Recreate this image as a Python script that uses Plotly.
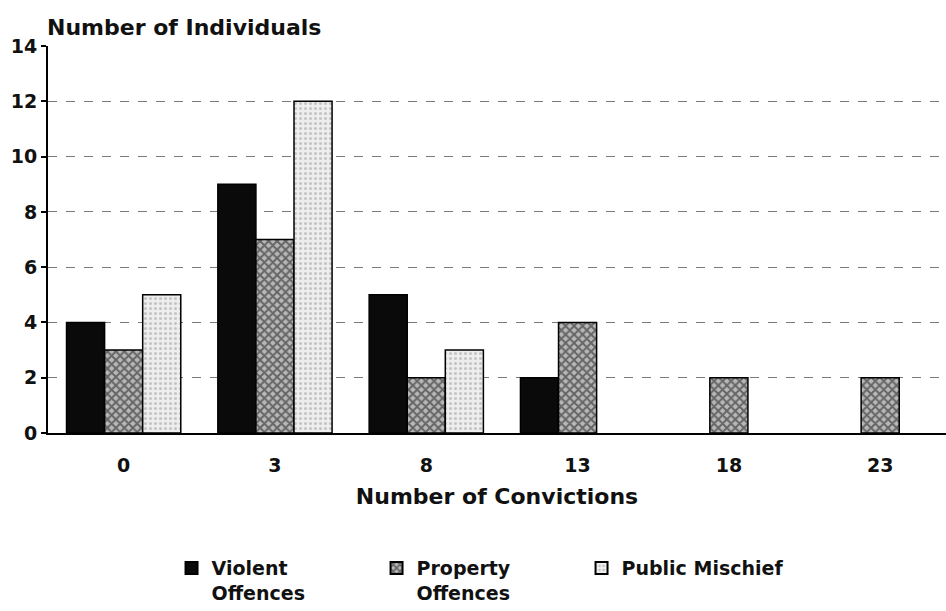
import plotly.graph_objects as go

categories = ["0", "3", "8", "13", "18", "23"]
violent = [4, 9, 5, 2, 0, 0]
property_off = [3, 7, 2, 4, 2, 2]
public_mischief = [5, 12, 3, 0, 0, 0]
y_ticks = [0, 2, 4, 6, 8, 10, 12, 14]

FONT = "DejaVu Sans, Liberation Sans, Arial, sans-serif"


def outline(vals):
    # zero-height bars leave no visible outline in the original
    return [1.5 if v else 0 for v in vals]


fig = go.Figure()
fig.add_trace(go.Bar(
    x=categories, y=violent, name="<b>Violent</b><br><b>Offences</b>",
    marker=dict(color="#0a0a0a", line=dict(color="#000", width=outline(violent))),
))
fig.add_trace(go.Bar(
    x=categories, y=property_off, name="<b>Property</b><br><b>Offences</b>",
    marker=dict(color="#ffffff", line=dict(color="#000", width=outline(property_off)),
                pattern=dict(shape="x", fgcolor="#111111", bgcolor="#b8b8b8",
                             size=6, solidity=0.55)),
))
fig.add_trace(go.Bar(
    x=categories, y=public_mischief, name="<b>Public Mischief</b>",
    marker=dict(color="#ffffff", line=dict(color="#000", width=outline(public_mischief)),
                pattern=dict(shape=".", fgcolor="#999999", bgcolor="#eeeeee",
                             size=5, solidity=0.3)),
))

fig.update_layout(
    width=946, height=611,
    margin=dict(l=48, r=0, t=46, b=178, autoexpand=False),
    paper_bgcolor="#ffffff", plot_bgcolor="#ffffff",
    barmode="group", bargap=0.245, bargroupgap=0,
    font=dict(family=FONT, size=19, color="#111"),
    showlegend=True,
    legend=dict(orientation="h", x=0.48, xanchor="center", y=-0.3, yanchor="top",
                font=dict(family=FONT, size=19, color="#111"),
                entrywidth=160, itemsizing="constant", traceorder="normal", valign="top"),
    annotations=[dict(text="<b>Number of Individuals</b>", x=-0.003, xref="paper",
                      xanchor="left", y=1, yref="paper", yanchor="bottom", yshift=4,
                      showarrow=False, font=dict(family=FONT, size=22, color="#111"))],
)
fig.update_xaxes(
    type="category", range=[-0.5, 5.435], automargin=False,
    showline=True, linecolor="#000", linewidth=2,
    showgrid=False, ticks="", ticklabelstandoff=14,
    tickfont=dict(family=FONT, size=19, color="#111"),
    tickprefix="<b>", ticksuffix="</b>",
    title=dict(text="<b>Number of Convictions</b>", font=dict(family=FONT, size=22, color="#111"),
               standoff=14),
)
fig.update_yaxes(
    range=[0, 14], tickvals=y_ticks, ticktext=[f"<b>{v}</b>" for v in y_ticks],
    automargin=False,
    showline=True, linecolor="#000", linewidth=2,
    ticks="outside", ticklen=5, tickwidth=2, tickcolor="#000",
    showgrid=True, gridcolor="#7a7a7a", griddash="dash", gridwidth=1,
    tickfont=dict(family=FONT, size=19, color="#111"), zeroline=False,
)

fig.write_html("out.html", config={"displayModeBar": False},
               post_script="document.body.style.margin='0';")
